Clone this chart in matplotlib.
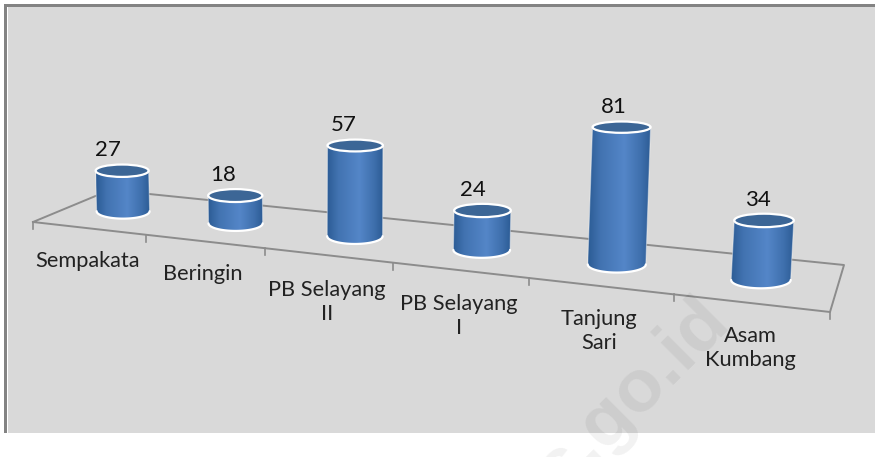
import numpy as np
from matplotlib import pyplot as plt
from matplotlib.patches import Ellipse, PathPatch, Rectangle
from matplotlib.path import Path

categories = ["Sempakata", "Beringin", "PB Selayang\nII", "PB Selayang\nI", "Tanjung\nSari", "Asam\nKumbang"]
values = [27, 18, 57, 24, 81, 34]

W, H = 875, 457
# sudut lantai 3D dalam piksel: depan kiri, depan kanan, belakang kiri, belakang kanan
floor_src = [(0, 0), (6, 0), (0, 1), (6, 1)]
floor_dst = [(33, 222), (830, 312), (110, 190), (844, 265)]


def homography(src, dst):
    a = []
    b = []
    for (u, v), (x, y) in zip(src, dst):
        a.append([u, v, 1, 0, 0, 0, -u * x, -v * x])
        a.append([0, 0, 0, u, v, 1, -u * y, -v * y])
        b += [x, y]
    return np.append(np.linalg.solve(np.array(a, float), np.array(b, float)), 1).reshape(3, 3)


M = homography(floor_src, floor_dst)


def project(u, v):
    p = M @ np.array([u, v, 1.0])
    return p[0] / p[2], p[1] / p[2], 1 / p[2]


def cylinder(ax, u, value, scale0):
    x, y, s = project(u, 0.45)
    y -= 1.5
    s = s / scale0
    rx = 26.5 * s ** 0.75
    ry = rx * 0.28
    h = value * 1.5 * s
    lean = 0.00012 * (x - 327) * h
    ry_top = rx * (0.25 - 0.0004 * h)
    xt, yt = x + lean, y - h

    # badan silinder dengan gradasi horizontal
    b = np.linspace(np.pi, 0, 40)
    bot = np.column_stack([x + rx * np.cos(b), y + ry * np.sin(b)])
    side = np.vstack([bot, [[xt + rx, yt]], [[xt - rx, yt]], [bot[0]]])
    path = Path(side)
    pos = np.linspace(0, 1, 128)
    stops = np.interp(pos, [0, 0.2, 0.58, 0.85, 1], [0, 0.55, 1, 0.45, 0])
    dark = np.array([0x2c, 0x5c, 0x95]) / 255
    light = np.array([0x54, 0x86, 0xc8]) / 255
    img = (dark + stops[:, None] * (light - dark))[None, :, :]
    left = min(x, xt) - rx
    right = max(x, xt) + rx
    im = ax.imshow(img, extent=(left, right, y + ry + 1, yt - 1), aspect="auto", zorder=3)
    clip = PathPatch(path, transform=ax.transData, fc="none", ec="none")
    ax.add_patch(clip)
    im.set_clip_path(clip)

    # garis putih tepi
    ax.plot(bot[:, 0], bot[:, 1], color="white", lw=1.6, zorder=4, solid_capstyle="round")
    ax.plot([x - rx, xt - rx], [y, yt], color="white", lw=0.8, alpha=0.4, zorder=4)
    ax.plot([x + rx, xt + rx], [y, yt], color="white", lw=0.8, alpha=0.4, zorder=4)
    ax.add_patch(Ellipse((xt, yt), 2 * rx, 2 * ry_top, fc="#3c6696", ec="white", lw=1.6, zorder=5))
    # label nilai makin ke kanan makin dekat ke tengah
    ax.text(xt - 14 + (xt - 123) * 0.0125, yt - 20.5, str(value), ha="center", va="center", fontsize=16,
            family="Lato", color="#111111", zorder=6)


fig = plt.figure(figsize=(W / 100, H / 100), dpi=100)
ax = fig.add_axes([0, 0, 1, 1])
ax.set_xlim(0, W)
ax.set_ylim(H, 0)
ax.axis("off")

# panel latar dan bingkai
ax.add_patch(Rectangle((4, 4), W, 429, fc="#838383", ec="none", zorder=0))
ax.add_patch(Rectangle((7, 7), W, 426, fc="white", ec="none", zorder=0.1))
ax.add_patch(Rectangle((8, 7), W, 425.5, fc="#d9d9d9", ec="none", zorder=0.2))

# lantai
corners = [project(0, 0), project(6, 0), project(6, 1), project(0, 1), project(0, 0)]
ax.plot([c[0] for c in corners], [c[1] for c in corners], color="#8c8c8c", lw=1.4, zorder=1)
for i in range(len(categories) + 1):
    x, y, _ = project(i, 0)
    ax.plot([x, x], [y, y + 7], color="#8c8c8c", lw=1.2, zorder=1)

label_pos = [(88, 261), (203, 274), (327, 302), (459, 316), (599, 331), (750, 348)]
for name, (lx, ly) in zip(categories, label_pos):
    ax.text(lx, ly, name, ha="center", va="center", fontsize=15.7, family="Lato",
            color="#222222", linespacing=1.25, zorder=6)

scale0 = project(0.5, 0.45)[2]
for i, val in enumerate(values):
    cylinder(ax, i + 0.5, val, scale0)

# watermark
ax.text(632, 396, "s.go.id", rotation=45, ha="center", va="center", fontsize=54, fontweight="bold",
        family="Liberation Sans", color="black", alpha=0.055, zorder=7)

fig.savefig("out.png", dpi=100)
